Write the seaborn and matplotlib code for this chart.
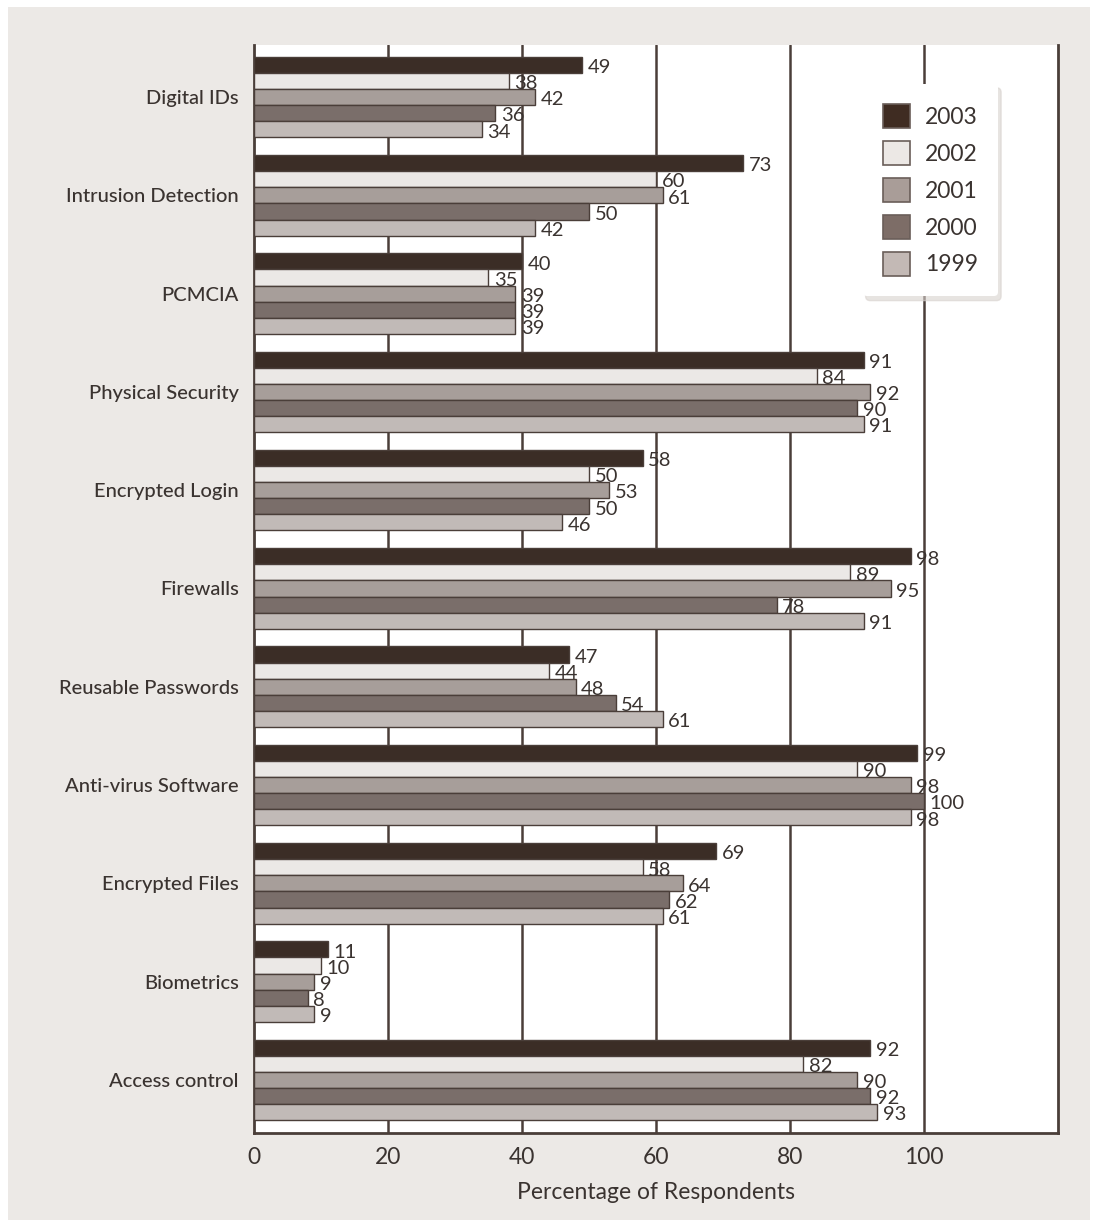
import matplotlib
matplotlib.use("Agg")
import matplotlib.pyplot as plt
import seaborn as sns
import pandas as pd
from matplotlib.patches import Patch, Rectangle

categories = ["Digital IDs", "Intrusion Detection", "PCMCIA", "Physical Security",
              "Encrypted Login", "Firewalls", "Reusable Passwords", "Anti-virus Software",
              "Encrypted Files", "Biometrics", "Access control"]
years = ["2003", "2002", "2001", "2000", "1999"]
v2003 = [49, 73, 40, 91, 58, 98, 47, 99, 69, 11, 92]
v2002 = [38, 60, 35, 84, 50, 89, 44, 90, 58, 10, 82]
v2001 = [42, 61, 39, 92, 53, 95, 48, 98, 64, 9, 90]
v2000 = [36, 50, 39, 90, 50, 78, 54, 100, 62, 8, 92]
v1999 = [34, 42, 39, 91, 46, 91, 61, 98, 61, 9, 93]
xticks = [0, 20, 40, 60, 80, 100]
xlabel = "Percentage of Respondents"

colors = ["#3f2c22", "#ece8e5", "#a99d98", "#7d6d67", "#c3b9b5"]
edge = "#4a3e39"
textc = "#3a3330"
bg = "#ece9e6"

rows = []
for yr, vals in zip(years, [v2003, v2002, v2001, v2000, v1999]):
    for c, v in zip(categories, vals):
        rows.append({"cat": c, "year": yr, "val": v})
df = pd.DataFrame(rows)

sns.set_theme(style="white")
plt.rcParams["font.family"] = ["Lato", "DejaVu Sans"]

fig = plt.figure(figsize=(10.98, 12.25), dpi=100)
fig.patch.set_facecolor("white")
fig.patches.append(Rectangle((0.007, 0.004), 0.986, 0.99, transform=fig.transFigure,
                             facecolor=bg, edgecolor="none", zorder=-10))
ax = fig.add_axes([0.2313, 0.0751, 0.7323, 0.8882])
ax.set_facecolor("white")

sns.barplot(data=df, y="cat", x="val", hue="year", hue_order=years, order=categories,
            palette=colors, orient="h", width=0.82, gap=0, edgecolor=edge,
            linewidth=1.0, ax=ax, legend=False, zorder=3)

for cont in ax.containers:
    labs = ax.bar_label(cont, padding=4, fontsize=14.5, color=textc)
    for l in labs:
        l.set_y(-2)

ax.set_xlim(0, 120)
ax.set_ylim(10.54, -0.53)
ax.set_xticks(xticks)
ax.set_xticklabels([str(t) for t in xticks], fontsize=16.5, color=textc)
ax.tick_params(axis="x", length=0, pad=10)
ax.tick_params(axis="y", length=0, pad=11, labelsize=14.5, labelcolor=textc)
for t in ax.get_yticklabels():
    t.set_fontweight("medium")
ax.set_xlabel(xlabel, fontsize=16.5, color=textc, labelpad=10)
ax.set_ylabel("")

for t in [20, 40, 60, 80, 100]:
    ax.axvline(t, color=edge, lw=1.8, zorder=1)

for s in ["left", "bottom", "right"]:
    ax.spines[s].set_visible(True)
    ax.spines[s].set_color(edge)
    ax.spines[s].set_linewidth(2)
ax.spines["top"].set_visible(False)

handles = [Patch(facecolor=c, edgecolor="#6a5e59", linewidth=1.2, label=y)
           for c, y in zip(colors, years)]
leg = ax.legend(handles=handles, loc="upper right", bbox_to_anchor=(0.94, 0.975),
                frameon=True, fontsize=16.5, handlelength=1.15, handleheight=1.25,
                handletextpad=0.65, labelspacing=0.55, borderpad=0.9,
                shadow={"ox": 2, "oy": -3, "color": "#d8d2ce", "alpha": 0.6})
leg.get_frame().set_facecolor("white")
leg.get_frame().set_edgecolor("none")
leg.get_frame().set_alpha(1)
for t in leg.get_texts():
    t.set_color(textc)
leg.set_zorder(10)

fig.savefig("out.png", dpi=100, facecolor=fig.get_facecolor())
